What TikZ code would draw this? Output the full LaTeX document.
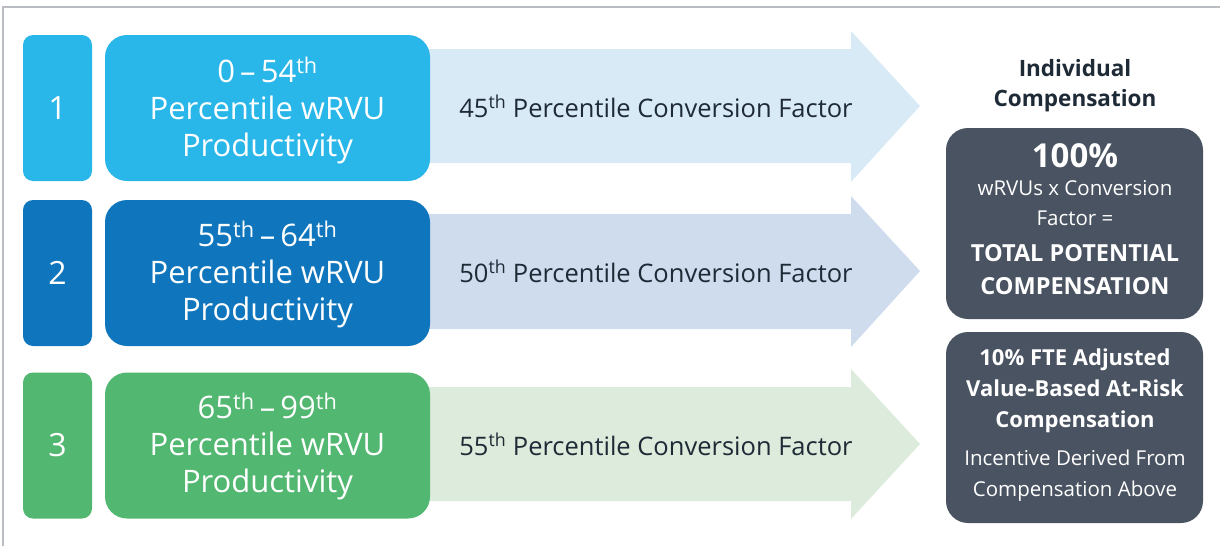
\documentclass[tikz,border=0pt]{standalone}
\usepackage{fontspec}
\setmainfont{Open Sans}
\definecolor{rowA}{HTML}{29B6E9}
\definecolor{rowAlt}{HTML}{D9EAF7}
\definecolor{rowB}{HTML}{0F76BD}
\definecolor{rowBlt}{HTML}{CFDCEE}
\definecolor{rowC}{HTML}{52B770}
\definecolor{rowClt}{HTML}{DCEBDC}
\definecolor{slate}{HTML}{4A5361}
\definecolor{ink}{HTML}{1E2A36}
\definecolor{framegray}{HTML}{B9BDC1}
\newcommand{\ordth}{\textsuperscript{th}}
\begin{document}
\begin{tikzpicture}[x=1pt,y=-1pt,
  numbox/.style={rounded corners=10pt, minimum width=69pt, minimum height=146pt,
    text=white, inner sep=0pt, font=\fontsize{32}{37}\selectfont},
  rangebox/.style={rounded corners=22pt, minimum width=325pt, minimum height=146pt,
    inner sep=0pt},
  rangetext/.style={text=white, align=center, inner sep=0pt, font=\fontsize{31}{37}\selectfont},
  arrowlabel/.style={text=ink, inner sep=0pt, font=\fontsize{25.5}{27}\selectfont},
  darkbox/.style={fill=slate, rounded corners=22pt, minimum width=257pt,
    minimum height=191pt, inner sep=0pt},
  boxbold/.style={text=white, inner sep=0pt, align=center, font=\bfseries\fontsize{22}{31}\selectfont},
  boxcaps/.style={text=white, inner sep=0pt, align=center, font=\bfseries\fontsize{23.5}{33}\selectfont},
  boxplain/.style={text=white, inner sep=0pt, align=center, font=\fontsize{20.5}{30.5}\selectfont},
  titletext/.style={text=ink, inner sep=0pt, align=center, font=\bfseries\fontsize{22.5}{30}\selectfont}]
\useasboundingbox (0,0) rectangle (1220,546);
% frame lines along the top and left edges
\draw[framegray, line width=1.5pt] (3,546) -- (3,7) -- (1220,7);

% band arrows (drawn first so the range boxes overlap their tails)
\fill[rowAlt] (425,49) -- (851,49) -- (851,31) -- (920,106) -- (851,182) -- (851,163) -- (425,163) -- cycle;
\fill[rowBlt] (425,214) -- (851,214) -- (851,196) -- (920,271) -- (851,347) -- (851,329) -- (425,329) -- cycle;
\fill[rowClt] (425,387) -- (851,387) -- (851,369) -- (920,444) -- (851,519) -- (851,501) -- (425,501) -- cycle;

% tier 1
\node[numbox, fill=rowA] (n1) at (57.5,108) {1};
\node[rangebox, fill=rowA] (r1) at (267.5,108) {};
\node[rangetext] (t1) at (267.5,110) {0\,--\,54\ordth\\Percentile wRVU\\Productivity};
\node[arrowlabel] (a1) at (656,106) {45\ordth{} Percentile Conversion Factor};

% tier 2
\node[numbox, fill=rowB] (n2) at (57.5,273) {2};
\node[rangebox, fill=rowB] (r2) at (267.5,273) {};
\node[rangetext] (t2) at (267.5,274) {55\ordth{}\,--\,64\ordth\\Percentile wRVU\\Productivity};
\node[arrowlabel] (a2) at (656,271) {50\ordth{} Percentile Conversion Factor};

% tier 3
\node[numbox, fill=rowC] (n3) at (57.5,445.5) {3};
\node[rangebox, fill=rowC] (r3) at (267.5,445.5) {};
\node[rangetext] (t3) at (267.5,446.5) {65\ordth{}\,--\,99\ordth\\Percentile wRVU\\Productivity};
\node[arrowlabel] (a3) at (656,444) {55\ordth{} Percentile Conversion Factor};

% compensation column
\node[titletext] (title) at (1075,86) {Individual\\Compensation};

\node[darkbox] (total) at (1074.5,223.5) {};
\node[text=white, inner sep=0pt, font=\bfseries\fontsize{33}{36}\selectfont] (pct) at (1075,156) {100\%};
\node[boxplain] (formula) at (1075,203) {wRVUs x Conversion\\Factor =};
\node[boxcaps] (potential) at (1075,269.5) {TOTAL POTENTIAL\\COMPENSATION};

\node[darkbox] (risk) at (1074.5,427.5) {};
\node[boxbold] (riskhead) at (1075,391) {10\% FTE Adjusted\\Value-Based At-Risk\\Compensation};
\node[boxplain] (incentive) at (1075,475.5) {Incentive Derived From\\Compensation Above};
\end{tikzpicture}
\end{document}
